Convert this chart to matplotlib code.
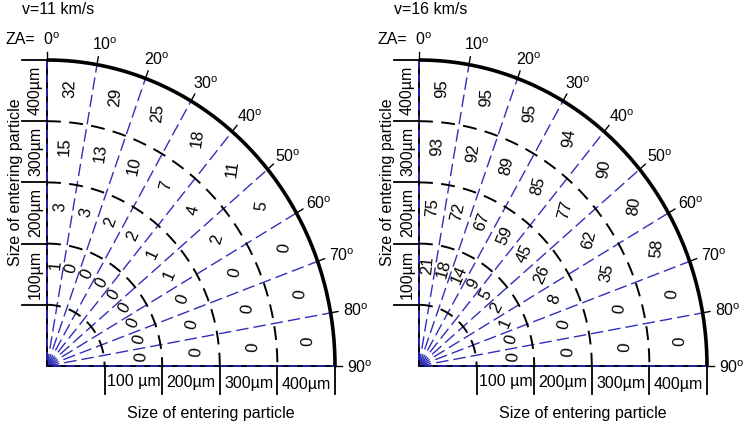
# quarter-circle diagrams: share of particles (%) by size and zenith angle
import numpy as np
import matplotlib
matplotlib.use('Agg')
import matplotlib.pyplot as plt

plt.rcParams['font.family'] = ['Liberation Sans', 'DejaVu Sans']
plt.rcParams['mathtext.fontset'] = 'custom'
plt.rcParams['mathtext.rm'] = 'Liberation Sans'
plt.rcParams['lines.scale_dashes'] = False

# data
titles = ['v=11 km/s', 'v=16 km/s']
za_ticks = [0, 10, 20, 30, 40, 50, 60, 70, 80, 90]
rings = [1, 2, 3, 4, 5]
size_bottom = ['100 µm', '200µm', '300µm', '400µm']
size_left = ['100µm', '200µm', '300µm', '400µm']
axis_label = 'Size of entering particle'

# rows = size ring (100..400 um), cols = ZA sector (0-10 ... 80-90)
pct_11 = [[1, 0, 0, 0, 0, 0, 0, 0, 0],
          [3, 3, 2, 2, 1, 1, 0, 0, 0],
          [15, 13, 10, 7, 4, 2, 0, 0, 0],
          [32, 29, 25, 18, 11, 5, 0, 0, 0]]
pct_16 = [[21, 18, 14, 9, 5, 2, 1, 0, 0],
          [75, 72, 67, 59, 45, 26, 8, 0, 0],
          [93, 92, 89, 85, 77, 62, 35, 0, 0],
          [95, 95, 95, 94, 90, 80, 58, 0, 0]]

# layout (pixels)
W, H = 746, 424
SX, SY = 57.6, 61.2   # px per unit
OY = 366
blue = '#3030b8'
axblue = '#1c1ca0'
fs = 11.5
fn = 12

fig = plt.figure(figsize=(W/100, H/100), dpi=100)


def pol(r, a):
    a = np.radians(a)
    return r*np.sin(a), r*np.cos(a)


def draw(ox, title, pct):
    ax = fig.add_axes([(ox - 0.8*SX)/W, (H - (OY + 0.95*SY))/H,
                       6.4*SX/W, 6.9*SY/H])
    ax.set_xlim(-0.8, 5.6)
    ax.set_ylim(-0.95, 5.95)
    ax.axis('off')
    R = rings[-1]

    # radial dashed lines
    for a in za_ticks[1:-1]:
        x, y = pol(R, a)
        ax.plot([0, x], [0, y], color=blue, lw=1.0, dashes=(9, 3.6))
    ax.plot([0, 0], [0, R], color=axblue, lw=1.4)
    ax.plot([0, R], [0, 0], color=axblue, lw=1.4)
    ax.plot([0, 0], [0, R], color='k', lw=1.2, dashes=(4, 6))
    ax.plot([0, R], [0, 0], color='k', lw=1.2, dashes=(4, 6))

    # arcs
    t = np.linspace(0, 90, 200)
    for r in rings[:-1]:
        x, y = pol(r, t)
        ax.plot(x, y, color='k', lw=1.4, dashes=(10, 6))
    x, y = pol(R, t)
    ax.plot(x, y, color='k', lw=2.6, solid_capstyle='butt')

    # outer ticks and ZA labels
    for a in za_ticks:
        x0, y0 = pol(R, a)
        x1, y1 = pol(R + 0.13, a)
        ax.plot([x0, x1], [y0, y1], color='k', lw=1.0)
        xl, yl = pol(R + 0.36, a)
        ax.text(xl + 0.08, yl - 0.03, '%d$^{\\mathrm{o}}$' % a, fontsize=fs,
                ha='center', va='center')
    ax.text(-0.2, R + 0.33, 'ZA=', fontsize=fs, ha='right', va='center')

    # axis ticks
    for r in rings:
        ax.plot([-0.43, 0], [r, r], color='k', lw=1.3)
        ax.plot([r, r], [0, -0.46], color='k', lw=1.3)
    for i, lab in enumerate(size_left):
        ax.text(-0.2, rings[i] + 0.5, lab, fontsize=fs, rotation=90,
                ha='center', va='center')
    for i, lab in enumerate(size_bottom):
        ax.text(rings[i] + 0.5, -0.25 - 0.02*i, lab, fontsize=fs,
                ha='center', va='center')
    ax.text(2.85, -0.78, axis_label, fontsize=fs, ha='center', va='center')
    ax.text(-0.55, 3.0, axis_label, fontsize=fs, rotation=90,
            ha='center', va='center')
    ax.text(-0.43, 5.83, title, fontsize=fs, ha='left', va='center')

    # cell values
    rpos = [1.65, 2.6, 3.6, 4.55]
    amp = [30, 25, 15, 8]
    for i, row in enumerate(pct):
        for j, v in enumerate(row):
            a = 10*j + 5
            x, y = pol(rpos[i], a)
            rot = 90 - amp[i]*np.sin(np.radians(2*a))
            ax.text(x, y, str(v), fontsize=fn, rotation=rot,
                    ha='center', va='center', rotation_mode='anchor')


draw(47, titles[0], pct_11)
draw(419, titles[1], pct_16)

fig.savefig('out.png', dpi=100)
